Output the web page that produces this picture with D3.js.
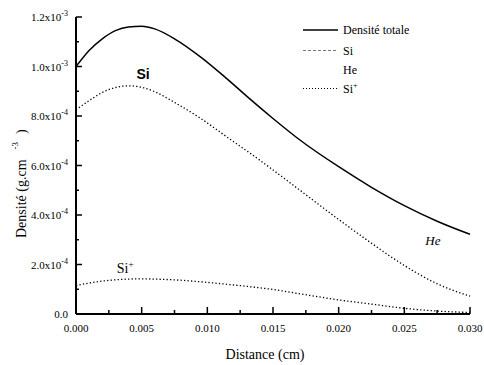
<!DOCTYPE html>
<html>
<head>
<meta charset="utf-8">
<script src="https://cdn.jsdelivr.net/npm/d3@7"></script>
<style>
  body { margin: 0; background: #fff; }
</style>
</head>
<body>
<svg class="density" width="484" height="365" font-family="Liberation Serif, DejaVu Serif, serif"></svg>
<script>
// distance (cm) and density (g.cm-3)
var distance = [0, 0.001, 0.002, 0.003, 0.004, 0.005, 0.006, 0.0075, 0.0095, 0.0115, 0.0133, 0.015, 0.017, 0.020, 0.0225, 0.025, 0.0275, 0.030];
var totale   = [1.000e-3, 1.065e-3, 1.112e-3, 1.145e-3, 1.160e-3, 1.163e-3, 1.152e-3, 1.112e-3, 1.038e-3, 0.950e-3, 0.866e-3, 0.790e-3, 0.705e-3, 0.595e-3, 0.512e-3, 0.438e-3, 0.375e-3, 0.322e-3];
var si       = [0.825e-3, 0.862e-3, 0.895e-3, 0.915e-3, 0.922e-3, 0.916e-3, 0.898e-3, 0.855e-3, 0.790e-3, 0.715e-3, 0.648e-3, 0.582e-3, 0.502e-3, 0.382e-3, 0.286e-3, 0.196e-3, 0.122e-3, 0.072e-3];
var siPlus   = [0.115e-3, 0.125e-3, 0.133e-3, 0.138e-3, 0.141e-3, 0.142e-3, 0.141e-3, 0.138e-3, 0.130e-3, 0.120e-3, 0.110e-3, 0.099e-3, 0.082e-3, 0.057e-3, 0.040e-3, 0.023e-3, 0.012e-3, 0.006e-3];

var xTicks = [0, 0.005, 0.010, 0.015, 0.020, 0.025, 0.030];
var xTickLabels = ["0.000", "0.005", "0.010", "0.015", "0.020", "0.025", "0.030"];
var yTicks = [0, 2e-4, 4e-4, 6e-4, 8e-4, 1.0e-3, 1.2e-3];
var yMantissa = ["0.0", "2.0", "4.0", "6.0", "8.0", "1.0", "1.2"];
var yExponent = [null, "-4", "-4", "-4", "-4", "-3", "-3"];
var legendNames = ["Densité totale", "Si", "He", "Si"];

var serif = "'Liberation Serif', 'DejaVu Serif', serif";

var svg = d3.select("svg.density"),
    margin = {top: 17, right: 14, bottom: 51, left: 76},
    width = +svg.attr("width") - margin.left - margin.right,
    height = +svg.attr("height") - margin.top - margin.bottom,
    g = svg.append("g").attr("transform", "translate(" + margin.left + "," + margin.top + ")");

var x = d3.scaleLinear().domain([0, 0.030]).range([0, width]);
var y = d3.scaleLinear().domain([0, 1.2e-3]).range([height, 0]);

// minor ticks pointing inward
var xMinor = d3.range(0, 0.0301, 0.0025);
var yMinor = d3.range(0, 1.21e-3, 1e-4);

g.selectAll(".xminor").data(xMinor).enter().append("line")
    .attr("x1", function(d) { return x(d); }).attr("x2", function(d) { return x(d); })
    .attr("y1", height).attr("y2", function(d, i) { return height - (i % 2 ? 4 : 7); })
    .attr("stroke", "#000").attr("stroke-width", 1.5);

g.selectAll(".yminor").data(yMinor).enter().append("line")
    .attr("y1", function(d) { return y(d); }).attr("y2", function(d) { return y(d); })
    .attr("x1", 0).attr("x2", function(d, i) { return i % 2 ? 3 : 6; })
    .attr("stroke", "#000").attr("stroke-width", 1.5);

g.append("line").attr("x1", 0).attr("x2", width).attr("y1", height).attr("y2", height)
    .attr("stroke", "#000").attr("stroke-width", 2);
g.append("line").attr("x1", 0).attr("x2", 0).attr("y1", 0).attr("y2", height)
    .attr("stroke", "#000").attr("stroke-width", 2);

// tick labels
g.selectAll(".xlab").data(xTicks).enter().append("text")
    .attr("x", function(d) { return x(d); })
    .attr("y", height + 18)
    .attr("text-anchor", "middle")
    .style("font-family", serif)
    .style("font-size", "11px")
    .text(function(d, i) { return xTickLabels[i]; });

var ylab = g.selectAll(".ylab").data(yTicks).enter().append("text")
    .attr("x", -8)
    .attr("y", function(d) { return y(d) + 4; })
    .attr("text-anchor", "end")
    .style("font-family", serif)
    .style("font-size", "11px");
ylab.append("tspan").text(function(d, i) { return yMantissa[i] + (yExponent[i] ? "x10" : ""); });
ylab.append("tspan")
    .attr("dy", -5)
    .style("font-size", "8px")
    .text(function(d, i) { return yExponent[i] || ""; });

// curves
var line = function(values) {
  return d3.line()
      .x(function(d, i) { return x(distance[i]); })
      .y(function(d) { return y(d); })
      .curve(d3.curveMonotoneX)(values);
};

g.append("path").attr("d", line(totale))
    .attr("fill", "none").attr("stroke", "#000").attr("stroke-width", 1.5);
g.append("path").attr("d", line(si))
    .attr("fill", "none").attr("stroke", "#000").attr("stroke-width", 1.3)
    .attr("stroke-dasharray", "1.3,2.2");
g.append("path").attr("d", line(siPlus))
    .attr("fill", "none").attr("stroke", "#000").attr("stroke-width", 1.3)
    .attr("stroke-dasharray", "1.3,2.2");

// in-plot labels
g.append("text").attr("x", x(0.0046)).attr("y", y(1.0e-3) + 12)
    .style("font-family", "'Liberation Sans', Arial, sans-serif")
    .style("font-weight", "bold").style("font-size", "14px").text("Si");

var sp = g.append("text").attr("x", x(0.0031)).attr("y", y(1.65e-4))
    .style("font-family", serif)
    .style("font-size", "14px");
sp.append("tspan").text("Si");
sp.append("tspan").attr("dy", -6).style("font-size", "9px").text("+");

g.append("text").attr("x", x(0.0266)).attr("y", y(2.8e-4))
    .style("font-family", serif)
    .style("font-size", "13px").style("font-style", "italic").text("He");

// legend
var legend = svg.append("g").attr("transform", "translate(303,30)");
var rows = legend.selectAll(".row").data(legendNames).enter().append("g")
    .attr("transform", function(d, i) { return "translate(0," + [0, 20.5, 40, 58.5][i] + ")"; });
rows.append("line")
    .attr("x1", 0).attr("x2", 35).attr("y1", 0).attr("y2", 0)
    .attr("stroke", function(d, i) { return i === 1 ? "#777" : "#000"; })
    .attr("stroke-width", function(d, i) { return i === 0 ? 1.4 : 1; })
    .attr("stroke-dasharray", function(d, i) { return i === 0 ? null : i === 1 ? "3,2" : "1,2"; })
    .style("display", function(d, i) { return i === 2 ? "none" : null; });
var lt = rows.append("text").attr("x", 40).attr("y", 4)
    .style("font-family", serif).style("font-size", "12px");
lt.append("tspan").text(function(d) { return d; });
lt.append("tspan").attr("dy", -5).style("font-size", "8px")
    .text(function(d, i) { return i === 3 ? "+" : ""; });

// axis titles
svg.append("text")
    .attr("x", margin.left + width / 2 - 8)
    .attr("y", 359)
    .attr("text-anchor", "middle")
    .style("font-family", serif)
    .style("font-size", "14px")
    .text("Distance (cm)");

var yt = svg.append("text")
    .attr("transform", "translate(26,238) rotate(-90)")
    .style("font-family", serif)
    .style("font-size", "14px");
yt.append("tspan").text("Densité (g.cm");
yt.append("tspan").attr("dx", 10).attr("dy", -8).style("font-size", "9px").text("-3");
yt.append("tspan").attr("dx", 8).attr("dy", 8).text(")");
</script>
</body>
</html>
